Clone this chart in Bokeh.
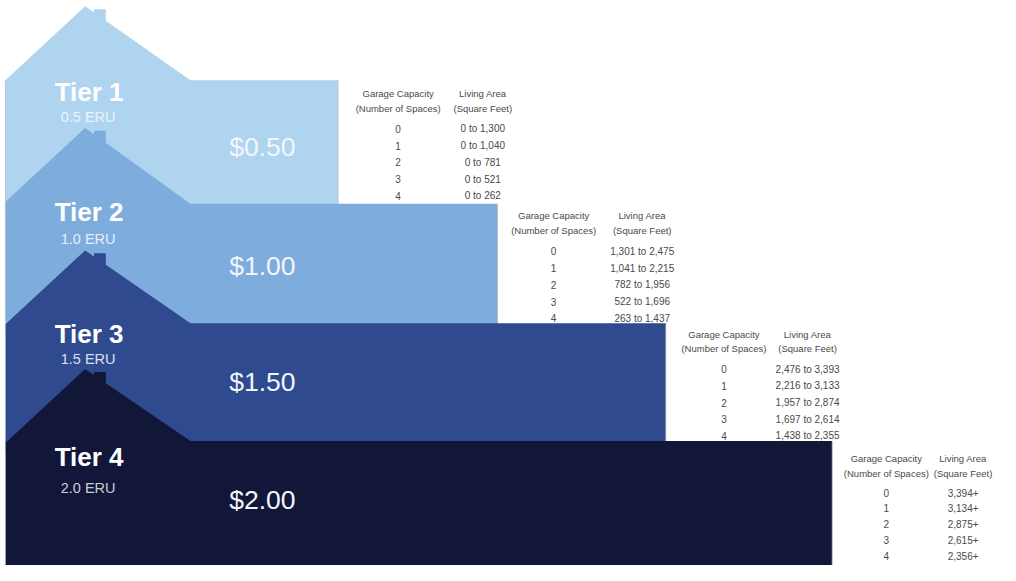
from bokeh.plotting import figure
from bokeh.models import Range1d, ColumnDataSource
from bokeh.core.properties import value
from bokeh.embed import file_html
from bokeh.resources import INLINE

# ---------------- data ----------------
tiers = ["Tier 1", "Tier 2", "Tier 3", "Tier 4"]
eru_labels = ["0.5 ERU", "1.0 ERU", "1.5 ERU", "2.0 ERU"]
prices = ["$0.50", "$1.00", "$1.50", "$2.00"]
garage_spaces = ["0", "1", "2", "3", "4"]
living_tier1 = ["0 to 1,300", "0 to 1,040", "0 to 781", "0 to 521", "0 to 262"]
living_tier2 = ["1,301 to 2,475", "1,041 to 2,215", "782 to 1,956", "522 to 1,696", "263 to 1,437"]
living_tier3 = ["2,476 to 3,393", "2,216 to 3,133", "1,957 to 2,874", "1,697 to 2,614", "1,438 to 2,355"]
living_tier4 = ["3,394+", "3,134+", "2,875+", "2,615+", "2,356+"]
living_areas = [living_tier1, living_tier2, living_tier3, living_tier4]
header_garage = ["Garage Capacity", "(Number of Spaces)"]
header_living = ["Living Area", "(Square Feet)"]

# ---------------- layout (coordinates in the 1016x581 picture) ----------------
colors = ["#AFD4F0", "#7EACDD", "#2F4A8F", "#121739"]
eru_colors = ["#EAF3FB", "#E6EFF9", "#D9E0EE", "#C9CCD8"]
peak_y = [6, 131, 257, 379]
body_top = [82, 209, 332, 453]
body_right = [343, 505, 676, 845]
label_y = [94, 218, 343, 469]
eru_y = [120, 245, 369, 501]
price_y = [151, 273, 392, 514]
tbl_col1 = [404, 562, 735, 900]
tbl_col2 = [490, 652, 820, 978]
tbl_head = [96, 221, 343, 471]
tbl_row0 = [132, 258, 379, 506]
row_step = [17.2, 17.2, 17.2, 16.2]

FONT = "Liberation Sans"

p = figure(width=1000, height=565, x_range=Range1d(0, 1016), y_range=Range1d(581, 0),
           output_backend="svg", toolbar_location=None,
           x_axis_location=None, y_axis_location=None, min_border=0)
p.grid.visible = False
p.outline_line_color = None
p.background_fill_color = "white"
p.border_fill_color = "white"

left_x, peak_x, ch_l, ch_r, eave_r = 5, 86, 95, 107, 193
for i in range(4):
    py, ry, rx = peak_y[i], body_top[i], body_right[i]
    by = body_top[i + 1] + 12 if i < 3 else 600
    slope = (ry - py) / (eave_r - peak_x)
    xs = [left_x, peak_x, ch_l, ch_l, ch_r, ch_r, eave_r, rx, rx, left_x]
    ys = [py + 76, py, py + slope * (ch_l - peak_x), py + 3, py + 3,
          py + slope * (ch_r - peak_x), ry, ry, by, by]
    p.patch(xs, ys, fill_color=colors[i], line_color=None)
    # subtle grey edges of the house
    p.segment(x0=[rx, left_x], y0=[ry, py + 76], x1=[rx, left_x],
              y1=[by if i == 3 else body_top[i + 1], by if i == 3 else body_top[i + 1] - 2],
              line_color="#b5b9bf", line_width=1, line_alpha=0.7)

# tier labels
p.text(x=[90] * 4, y=label_y, text=tiers, text_font=value(FONT), text_font_style="bold",
       text_font_size="26px", text_color="white", text_align="center", text_baseline="middle")
src_eru = ColumnDataSource(dict(x=[89] * 4, y=eru_y, t=eru_labels, c=eru_colors))
p.text(x="x", y="y", text="t", source=src_eru, text_font=value(FONT),
       text_font_size="14.5px", text_color="c", text_align="center", text_baseline="middle")
p.text(x=[266] * 4, y=price_y, text=prices, text_font=value(FONT),
       text_font_size="26.5px", text_color="#F2F6FB", text_align="center", text_baseline="middle")

# tables
for i in range(4):
    hx = [tbl_col1[i], tbl_col1[i], tbl_col2[i], tbl_col2[i]]
    hy = [tbl_head[i], tbl_head[i] + 15, tbl_head[i], tbl_head[i] + 15]
    p.text(x=hx, y=hy, text=header_garage + header_living, text_font=value(FONT),
           text_font_size="9.5px", text_color="#4a4a4a", text_align="center", text_baseline="middle")
    ry_rows = [tbl_row0[i] + k * row_step[i] for k in range(5)]
    p.text(x=[tbl_col1[i]] * 5, y=ry_rows, text=garage_spaces, text_font=value(FONT),
           text_font_size="10px", text_color="#4a4a4a", text_align="center", text_baseline="middle")
    p.text(x=[tbl_col2[i]] * 5, y=ry_rows, text=living_areas[i], text_font=value(FONT),
           text_font_size="10px", text_color="#4a4a4a", text_align="center", text_baseline="middle")

open("out.html", "w").write(file_html(p, INLINE))
